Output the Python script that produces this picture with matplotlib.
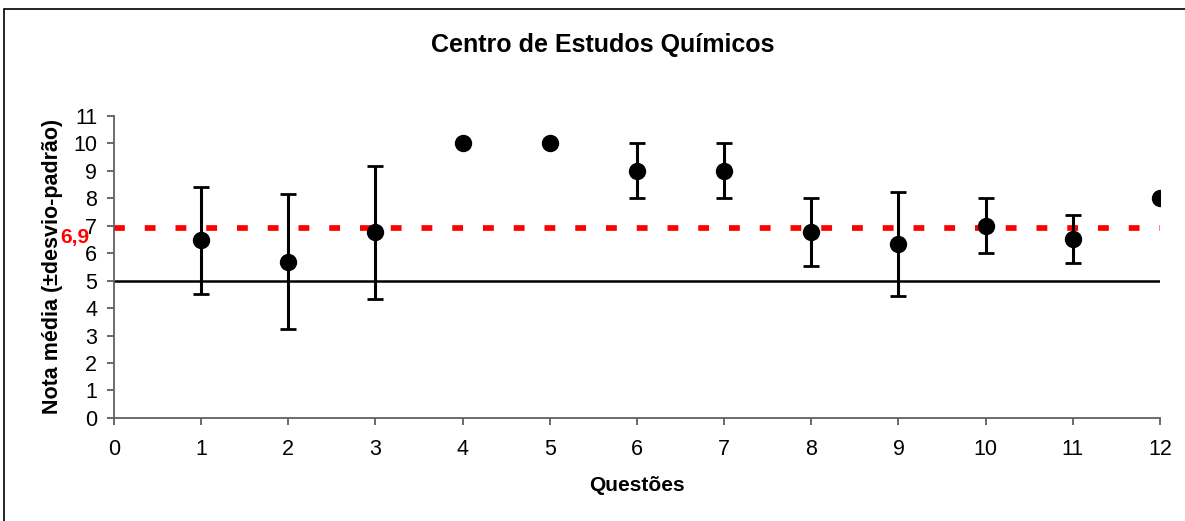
import matplotlib
matplotlib.use("Agg")
import matplotlib.pyplot as plt
from matplotlib.patches import Rectangle

questoes = [1, 2, 3, 4, 5, 6, 7, 8, 9, 10, 11, 12]
media = [6.46, 5.68, 6.76, 10, 10, 9, 9, 6.76, 6.33, 7.0, 6.5, 8.0]
desvio = [1.95, 2.46, 2.42, 0, 0, 1.0, 1.0, 1.25, 1.9, 1.0, 0.87, 0]
media_geral = 6.9
nota_minima = 5
media_label = "6,9"

plt.rcParams['font.family'] = ['Liberation Sans', 'DejaVu Sans']

fig = plt.figure(figsize=(11.85, 5.21), dpi=100)
ax = fig.add_axes([0.0962, 0.1977, 0.9789 - 0.0962, 0.7783 - 0.1977])

# outer frame
fig.patches.append(Rectangle((4 / 1185, -0.1), 1.2, 1 - 9 / 521 + 0.1, transform=fig.transFigure,
                             fill=False, edgecolor='black', linewidth=1.2))

ax.axhline(nota_minima, color='black', linewidth=1.8, zorder=2)
ax.plot([0, 12], [media_geral, media_geral], color='#FF0000', linewidth=4.1,
        dashes=(1.9, 3.5), zorder=2, solid_capstyle='butt', dash_capstyle='butt')

ax.errorbar(questoes, media, yerr=desvio, fmt='none', ecolor='black', elinewidth=2.2,
            capsize=5.5, capthick=2.0, zorder=3)
ax.plot(questoes, media, 'o', color='black', markersize=11.5, zorder=4)

ax.set_xlim(0, 12)
ax.set_ylim(0, 11)
ax.set_xticks(range(0, 13))
ax.set_yticks(range(0, 12))
for s in ['top', 'right']:
    ax.spines[s].set_visible(False)
for s in ['left', 'bottom']:
    ax.spines[s].set_color('#606060')
    ax.spines[s].set_linewidth(1.3)
ax.tick_params(axis='both', labelsize=15.5, length=5, width=1.2, color='#505050', direction='out')
ax.tick_params(axis='x', pad=10)
ax.tick_params(axis='y', pad=7)

ax.set_xlabel('Questões', fontsize=15, fontweight='bold', labelpad=12)
ax.set_ylabel('Nota média (±desvio-padrão)', fontsize=15.5, fontweight='bold')
ax.yaxis.label.set_va('center')
ax.yaxis.set_label_coords(-0.059, 0.5)
fig.text(603 / 1185, 1 - 45 / 521, 'Centro de Estudos Químicos', fontsize=18,
         fontweight='bold', ha='center', va='center')

ax.text(-0.28, media_geral - 0.32, media_label, color='#FF0000', fontsize=15, fontweight='bold',
        ha='right', va='center', clip_on=False)

fig.savefig('out.png', dpi=100)
